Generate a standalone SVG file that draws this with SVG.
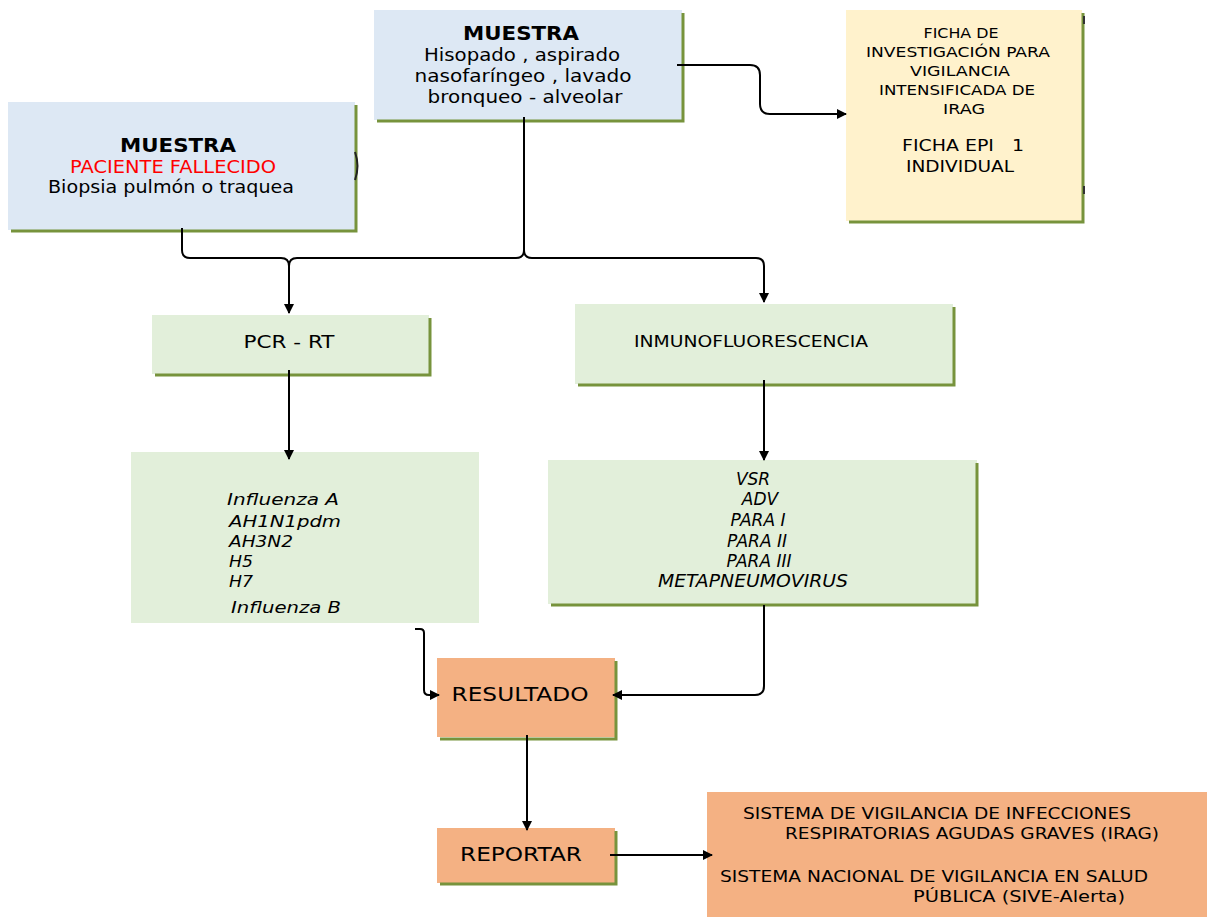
<svg xmlns="http://www.w3.org/2000/svg" width="1207" height="917" viewBox="0 0 1207 917">
<style>
.t{font-family:"DejaVu Sans","Liberation Sans",sans-serif;fill:#000;}
.c{text-anchor:middle;}
.b{font-weight:bold;}
.i{font-style:italic;}
.blue{fill:#dde8f4;}
.green{fill:#e2efda;}
.yellow{fill:#fff2cc;}
.salmon{fill:#f4b183;}
.edge{fill:none;stroke:#77933c;stroke-width:3;}
.conn{fill:none;stroke:#000;stroke-width:2;}
</style>
<defs>
<marker id="ah" markerWidth="10" markerHeight="10" refX="9" refY="5" orient="auto" markerUnits="userSpaceOnUse">
<path d="M0,0 L10,5 L0,10 Z" fill="#000"/>
</marker>
</defs>
<rect width="1207" height="917" fill="#fff"/>

<g id="muestra-top">
<rect class="blue" x="374" y="10" width="308" height="110"/>
<polyline class="edge" points="683,13 683,121 377,121"/>
<text class="t c b" x="521" y="40" font-size="20" textLength="116" lengthAdjust="spacingAndGlyphs">MUESTRA</text>
<text class="t c" x="522" y="61" font-size="17" textLength="196" lengthAdjust="spacingAndGlyphs">Hisopado , aspirado</text>
<text class="t c" x="523" y="82" font-size="17" textLength="217" lengthAdjust="spacingAndGlyphs">nasofaríngeo , lavado</text>
<text class="t c" x="525" y="103" font-size="17" textLength="195" lengthAdjust="spacingAndGlyphs">bronqueo - alveolar</text>
</g>

<g id="muestra-left">
<rect class="blue" x="8" y="102" width="347" height="128"/>
<polyline class="edge" points="356,105 356,231 11,231"/>
<path d="M355,152 Q360,166 355,180" fill="none" stroke="#222" stroke-width="2"/>
<text class="t c b" x="178" y="152" font-size="20" textLength="116" lengthAdjust="spacingAndGlyphs">MUESTRA</text>
<text class="t c" x="173" y="173" font-size="17" style="fill:#ff0000" textLength="206" lengthAdjust="spacingAndGlyphs">PACIENTE FALLECIDO</text>
<text class="t c" x="171" y="193" font-size="17" textLength="246" lengthAdjust="spacingAndGlyphs">Biopsia pulmón o traquea</text>
</g>

<g id="ficha">
<rect class="yellow" x="846" y="10" width="236" height="211"/>
<polyline class="edge" points="1083,13 1083,222 849,222"/>
<line x1="1084" y1="16" x2="1084" y2="24" stroke="#333" stroke-width="2"/>
<line x1="1084" y1="186" x2="1084" y2="194" stroke="#333" stroke-width="2"/>
<text class="t c" x="961" y="38" font-size="14" textLength="75" lengthAdjust="spacingAndGlyphs">FICHA DE</text>
<text class="t c" x="958" y="57" font-size="14" textLength="184" lengthAdjust="spacingAndGlyphs">INVESTIGACIÓN PARA</text>
<text class="t c" x="960" y="76" font-size="14" textLength="100" lengthAdjust="spacingAndGlyphs">VIGILANCIA</text>
<text class="t c" x="957" y="95" font-size="14" textLength="156" lengthAdjust="spacingAndGlyphs">INTENSIFICADA DE</text>
<text class="t c" x="964" y="114" font-size="14" textLength="42" lengthAdjust="spacingAndGlyphs">IRAG</text>
<text class="t c" x="963" y="151" font-size="16" textLength="122" lengthAdjust="spacingAndGlyphs" xml:space="preserve">FICHA EPI   1</text>
<text class="t c" x="960" y="172" font-size="16" textLength="108" lengthAdjust="spacingAndGlyphs">INDIVIDUAL</text>
</g>

<g id="pcr">
<rect class="green" x="152" y="315" width="277" height="59"/>
<polyline class="edge" points="430,318 430,375 155,375"/>
<text class="t c" x="289" y="348" font-size="18" textLength="91" lengthAdjust="spacingAndGlyphs">PCR - RT</text>
</g>

<g id="inmuno">
<rect class="green" x="575" y="304" width="378" height="80"/>
<polyline class="edge" points="954,307 954,385 578,385"/>
<text class="t c" x="751" y="347" font-size="15" textLength="234" lengthAdjust="spacingAndGlyphs">INMUNOFLUORESCENCIA</text>
</g>

<g id="influenza">
<rect class="green" x="131" y="452" width="348" height="171"/>
<text class="t i" x="227" y="505" font-size="16" textLength="112" lengthAdjust="spacingAndGlyphs">Influenza A</text>
<text class="t i" x="229" y="527" font-size="16" textLength="112" lengthAdjust="spacingAndGlyphs">AH1N1pdm</text>
<text class="t i" x="229" y="547" font-size="16" textLength="64" lengthAdjust="spacingAndGlyphs">AH3N2</text>
<text class="t i" x="229" y="567" font-size="16" textLength="24" lengthAdjust="spacingAndGlyphs">H5</text>
<text class="t i" x="229" y="587" font-size="16" textLength="24" lengthAdjust="spacingAndGlyphs">H7</text>
<text class="t i" x="231" y="613" font-size="16" textLength="110" lengthAdjust="spacingAndGlyphs">Influenza B</text>
</g>

<g id="virus">
<rect class="green" x="548" y="460" width="429" height="144"/>
<polyline class="edge" points="977,463 977,605 551,605"/>
<text class="t i c" x="753" y="485" font-size="17">VSR</text>
<text class="t i c" x="760" y="505" font-size="17">ADV</text>
<text class="t i c" x="758" y="526" font-size="17">PARA I</text>
<text class="t i c" x="757" y="547" font-size="17">PARA II</text>
<text class="t i c" x="759" y="567" font-size="17">PARA III</text>
<text class="t i c" x="753" y="587" font-size="17" textLength="190" lengthAdjust="spacingAndGlyphs">METAPNEUMOVIRUS</text>
</g>

<g id="resultado">
<rect class="salmon" x="437" y="658" width="178" height="79"/>
<polyline class="edge" points="616,661 616,739 440,739"/>
<text class="t c" x="520" y="701" font-size="19" textLength="137" lengthAdjust="spacingAndGlyphs">RESULTADO</text>
</g>

<g id="reportar">
<rect class="salmon" x="437" y="828" width="178" height="55"/>
<polyline class="edge" points="616,831 616,884 440,884"/>
<text class="t c" x="521" y="861" font-size="19" textLength="122" lengthAdjust="spacingAndGlyphs">REPORTAR</text>
</g>

<g id="sistema">
<rect class="salmon" x="707" y="792" width="500" height="125"/>
<text class="t" x="743" y="819" font-size="16" textLength="388" lengthAdjust="spacingAndGlyphs">SISTEMA DE VIGILANCIA DE INFECCIONES</text>
<text class="t" x="785" y="839" font-size="16" textLength="374" lengthAdjust="spacingAndGlyphs">RESPIRATORIAS AGUDAS GRAVES (IRAG)</text>
<text class="t" x="720" y="882" font-size="16" textLength="428" lengthAdjust="spacingAndGlyphs">SISTEMA NACIONAL DE VIGILANCIA EN SALUD</text>
<text class="t" x="913" y="902" font-size="16" textLength="212" lengthAdjust="spacingAndGlyphs">PÚBLICA (SIVE-Alerta)</text>
</g>

<g id="connectors">
<path class="conn" d="M182,228 V250 Q182,258 190,258 H281 Q289,258 289,266 V313" marker-end="url(#ah)"/>
<path class="conn" d="M297,258 Q289,258 289,266"/>
<path class="conn" d="M297,258 H516 Q524,258 524,250 V117"/>
<path class="conn" d="M524,250 Q524,258 532,258 H756 Q764,258 764,266 V302" marker-end="url(#ah)"/>
<path class="conn" d="M677,65 H750 Q760,65 760,75 V104 Q760,114 770,114 H846" marker-end="url(#ah)"/>
<path class="conn" d="M289,370 V459" marker-end="url(#ah)"/>
<path class="conn" d="M764,380 V460" marker-end="url(#ah)"/>
<path class="conn" d="M415,629 H420 Q424,629 424,633 V690 Q424,695 429,695 H439" marker-end="url(#ah)"/>
<path class="conn" d="M764,605 V686 Q764,695 755,695 H613" marker-end="url(#ah)"/>
<path class="conn" d="M527,735 V830" marker-end="url(#ah)"/>
<path class="conn" d="M610,855 H712" marker-end="url(#ah)"/>
</g>
</svg>
